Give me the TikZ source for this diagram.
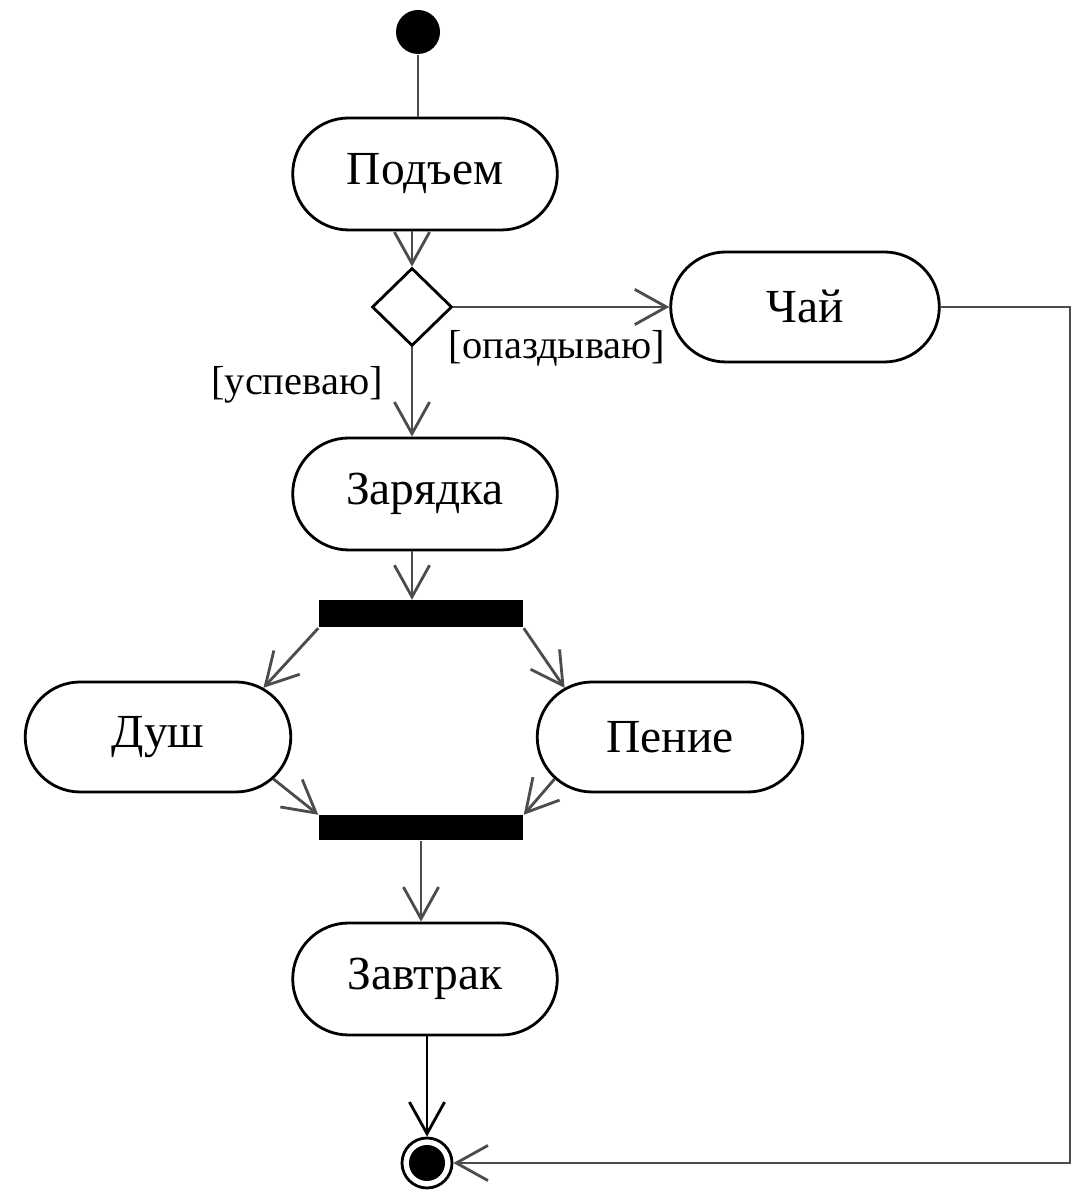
\documentclass[tikz,border=0pt]{standalone}
\usepackage{fontspec}
\setmainfont{Liberation Serif}
\usetikzlibrary{shapes.misc,shapes.geometric,arrows.meta}

\begin{document}
\begin{tikzpicture}[font=\fontsize{13.5}{16}\selectfont,
    aktion/.style={draw, line width=0.8pt, rounded rectangle, minimum width=2.88cm, minimum height=1.12cm},
    balken/.style={fill=black, minimum width=2.04cm, minimum height=0.27cm, inner sep=0pt},
    pfeil/.style={-{Straight Barb[length=9pt,width=10pt]}, black!70, line width=0.8pt},
    waechter/.style={font=\fontsize{11.5}{14}\selectfont}]
    \useasboundingbox (0,0) rectangle (10.81,11.96);

    % Start und Ende
    \node[circle, fill=black, minimum size=0.44cm, inner sep=0pt] (start) at (4.18,11.64) {};
    \node[circle, draw, line width=0.8pt, minimum size=0.5cm, inner sep=0pt] (ende) at (4.27,0.33) {};
    \fill (ende) circle (0.18);

    % Aktionen
    \node[aktion] (pod) at (4.25,10.22) {Подъем};
    \node[aktion, minimum width=2.92cm, minimum height=1.10cm] (chai) at (8.05,8.89) {Чай};
    \node[aktion] (zar) at (4.25,7.02) {Зарядка};
    \node[aktion, minimum width=2.89cm, minimum height=1.10cm] (dush) at (1.58,4.59) {Душ};
    \node[aktion, minimum width=2.89cm, minimum height=1.10cm] (penie) at (6.70,4.59) {Пение};
    \node[aktion] (zav) at (4.25,2.17) {Завтрак};

    % Verzweigung und Balken
    \node[draw, diamond, line width=0.8pt, minimum width=0.8cm, minimum height=0.78cm, inner sep=0pt] (entsch) at (4.12,8.89) {};
    \node[balken] (gabel) at (4.21,5.82) {};
    \node[balken, minimum height=0.25cm] (sync) at (4.21,3.68) {};

    % Bedingungen
    \node[waechter] (spaet) at (5.57,8.48) {[опаздываю]};
    \node[waechter] (recht) at (2.97,8.11) {[успеваю]};

    % Kanten
    \draw[black!70, line width=0.8pt] (start) -- (start |- pod.north);
    \draw[pfeil] (pod.south -| entsch) -- (entsch.north);
    \draw[pfeil] (entsch.east) -- (chai.west);
    \draw[pfeil] (entsch.south) -- (entsch.south |- zar.north);
    \draw[pfeil] (zar.south -| entsch) -- (gabel.north -| entsch);
    \draw[pfeil] (gabel.south west) -- (dush.25);
    \draw[pfeil] (gabel.south east) -- (penie.155);
    \draw[pfeil] (dush.-20) -- (sync.north west);
    \draw[pfeil] (penie.200) -- (sync.north east);
    \draw[pfeil] (sync.south) -- (sync.south |- zav.north);
    \draw[pfeil, black] (zav.south -| ende) -- (ende.north);

    % Rueckweg von Chai
    \coordinate (ecke) at (10.70,8.89);
    \draw[pfeil] (chai.east) -- (ecke) |- (ende.east);

  \end{tikzpicture}
\end{document}
